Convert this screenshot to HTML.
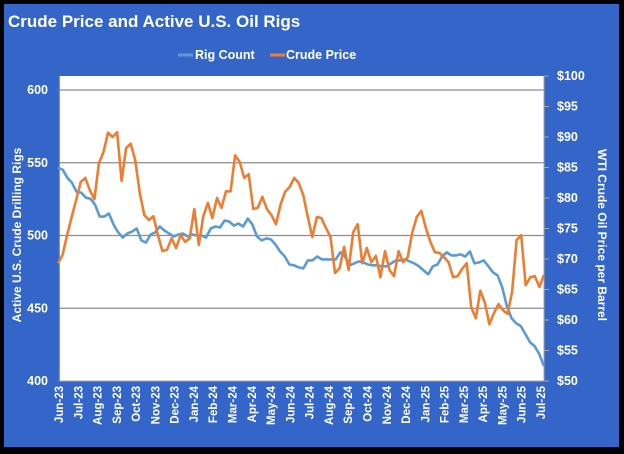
<!DOCTYPE html>
<html><head><meta charset="utf-8"><style>
html,body{margin:0;padding:0;background:#000;width:624px;height:454px;overflow:hidden}
#frame{position:absolute;left:4px;top:4px;width:615px;height:443px;background:#3465c9}
svg{position:absolute;left:0;top:0}
text{font-family:"Liberation Sans Narrow","Liberation Sans",sans-serif;font-weight:bold;fill:#fff}
</style></head><body>
<div id="frame"></div>
<svg id="chart" width="624" height="454">
<text x="8" y="27" font-size="17">Crude Price and Active U.S. Oil Rigs</text>
<g>
<g><line x1="178" y1="55" x2="193" y2="55" stroke="#5b9bd5" stroke-width="3"/><text x="195" y="59" font-size="12.5">Rig Count</text></g>
<g><line x1="270" y1="55" x2="285" y2="55" stroke="#ed7d31" stroke-width="3"/><text x="286" y="59" font-size="12.5">Crude Price</text></g>
</g>
<rect x="59" y="76" width="485" height="305" fill="#fff"/>
<g id="grid"></g>
<g id="yl"></g>
<g id="yr"></g>
<g id="xa"></g>
<g id="series"></g>
<text transform="translate(21,235) rotate(-90)" text-anchor="middle" font-size="12">Active U.S. Crude Drilling Rigs</text>
<text transform="translate(598,235) rotate(90)" text-anchor="middle" font-size="12">WTI Crude Oil Price per Barrel</text>
</svg>
<script>
const monthLabels=["Jun-23","Jul-23","Aug-23","Sep-23","Oct-23","Nov-23","Dec-23","Jan-24","Feb-24","Mar-24","Apr-24","May-24","Jun-24","Jul-24","Aug-24","Sep-24","Oct-24","Nov-24","Dec-24","Jan-25","Feb-25","Mar-25","Apr-25","May-25","Jun-25","Jul-25"];
const rigTicks=[400,450,500,550,600];
const priceTicks=[50,55,60,65,70,75,80,85,90,95,100];
const priceTickLabels=["$50","$55","$60","$65","$70","$75","$80","$85","$90","$95","$100"];
const seriesStartMonth=-0.05;
const seriesEndMonth=25.15;
const rigCount=[546.6,545.2,539.7,536.3,530.1,529.5,526,525.3,521.2,513,513,515.1,507.5,502.1,498.6,501.4,502.7,504.8,496.6,495.2,500.7,502.1,506.2,503.4,501.4,499.3,500.7,501.4,499.3,500.7,500,500,498.6,504.8,506.2,505.5,510.3,509.6,506.8,508.2,506.2,511.6,507.5,499.3,496.6,498,497.3,493.8,489,485.6,480.1,479.5,478.1,
477.4,482.9,482.9,485.6,483.6,483.6,483.6,483.6,488.4,485.6,479.5,480.8,482.2,481.5,480.1,479.5,479.5,478.8,478.8,480.8,482.9,482.9,483.6,482.2,480.8,478.8,476,473.3,478.8,480.1,485.6,488.4,486.3,486.3,487,485.6,489,480.8,481.5,482.9,478.8,474.7,472.6,464.4,451.4,443.2,439.7,437.7,432.2,426.7,424,418.5,410.3];
const crudePrice=[69.3,70.7,73.9,76.9,79.7,82.6,83.3,81.3,79.8,85.7,87.5,90.7,90,90.8,82.8,88.2,88.9,86.2,80.8,77.2,76.4,77,73.9,71.3,71.5,73.4,71.8,73.9,72.8,73.4,78.2,72.3,77,79.2,76.7,80,78.4,81.1,81.1,87,85.9,83.3,83.9,78.2,78.4,80.2,78.2,77.2,75.7,78.9,81,81.8,83.3,82.5,80.5,
76.9,73.6,76.9,76.7,75.1,73.6,67.7,68.5,72,68.2,74.4,75.7,69.3,71.8,69.5,70.5,67,71.3,68.2,67.2,71.3,69.5,70.3,74.3,76.9,77.9,75.1,72.8,71.1,71,70.3,69.5,67,67.2,68.4,69.3,62.1,60.3,64.8,62.8,59.3,61.1,62.6,61.6,61,64.6,73.1,73.9,65.7,67,67.2,65.4,67.4];

const NS="http://www.w3.org/2000/svg";
const PL=59,PR=544,PT=76,PB=381;
const xM=m=>59+m*(541-59)/25;
const yRig=v=>90+(600-v)*(381-90)/200;
const yPrice=v=>PB-(v-50)*(PB-PT)/50;
function mk(tag,attrs,parent){const e=document.createElementNS(NS,tag);for(const k in attrs)e.setAttribute(k,attrs[k]);parent.appendChild(e);return e;}
const grid=document.getElementById('grid'),yl=document.getElementById('yl'),yr=document.getElementById('yr'),xa=document.getElementById('xa'),ser=document.getElementById('series');
rigTicks.forEach(v=>{
  if(v>400){const l=mk('line',{x1:PL,x2:PR,y1:yRig(v),y2:yRig(v),stroke:'#8c8c8c','stroke-width':1.2},grid);
  
  }
  const t=mk('text',{x:48,y:yRig(v)+4,'text-anchor':'end','font-size':12.5},yl);t.textContent=v;
  
  
});
mk('line',{x1:PL,x2:PL,y1:PT,y2:PB,stroke:'#4472c4','stroke-width':1.5},yl);
mk('line',{x1:PR,x2:PR,y1:PT,y2:PB,stroke:'#a6a6a6','stroke-width':1},yr);
priceTicks.forEach((v,i)=>{
  mk('line',{x1:PR,x2:PR+5,y1:yPrice(v),y2:yPrice(v),stroke:'#a6a6a6','stroke-width':1},yr);
  const t=mk('text',{x:557,y:yPrice(v)+4,'font-size':12.5},yr);t.textContent=priceTickLabels[i];
  
  
});
mk('line',{x1:PL,x2:PR,y1:PB,y2:PB,stroke:'#a6a6a6','stroke-width':1},xa);
monthLabels.forEach((m,i)=>{
  const x=xM(i);
  const t=mk('text',{transform:`translate(${x+4},386) rotate(-90)`,'text-anchor':'end','font-size':11.5},xa);t.textContent=m;
  
  
});
function path(vals,yf,color,name){
  const n=vals.length;
  const d=vals.map((v,i)=>(i?'L':'M')+xM(seriesStartMonth+i*(seriesEndMonth-seriesStartMonth)/(n-1)).toFixed(1)+','+yf(v).toFixed(1)).join(' ');
  const p=mk('path',{d:d,fill:'none',stroke:color,'stroke-width':2.6,'stroke-linejoin':'round'},ser);
  
  
}
path(rigCount,yRig,'#5b9bd5','rig-count-line');
path(crudePrice,yPrice,'#ed7d31','crude-price-line');
</script>
</body></html>
